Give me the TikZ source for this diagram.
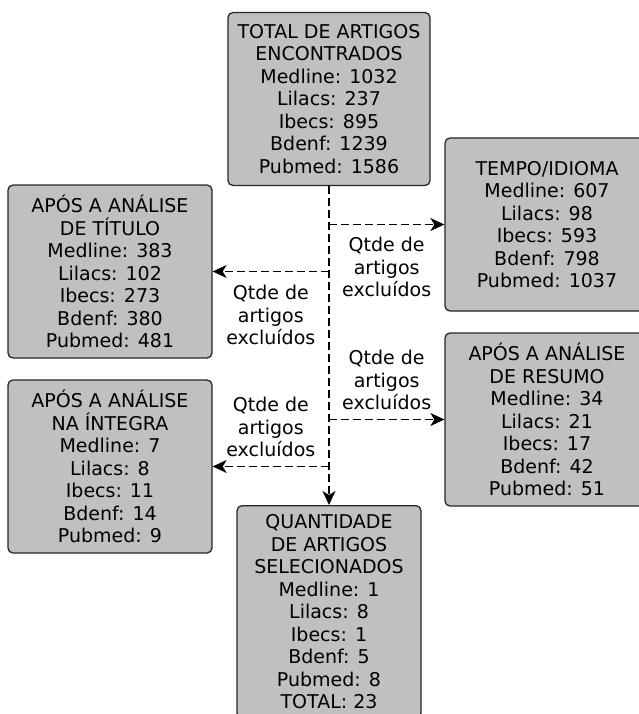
\documentclass[tikz,border=0pt]{standalone}
\usepackage{fontspec}
\setmainfont{DejaVu Sans}
\usepackage{tikz}
\usetikzlibrary{positioning, arrows.meta}
\definecolor{boxgray}{RGB}{192,192,192}

\begin{document}
\begin{tikzpicture}[x=1pt,y=1pt,
% Box style
    box/.style={rectangle,rounded corners=5pt,draw=black!85,line width=1.3pt,
		fill=boxgray,align=center,inner xsep=2pt,inner ysep=9pt,
		minimum width=204pt,minimum height=173pt,
		font=\fontsize{19}{22.5}\selectfont},
% Label style
    note/.style={align=center,inner sep=3pt,
		font=\fontsize{19}{22.5}\selectfont},
% Connector style
    flow/.style={dash pattern=on 8pt off 4pt,line width=1.3pt,
		-{Stealth[length=14pt,width=13pt,inset=4pt]}}
    ]
   \clip (0,0) rectangle (639,-714);
%% Boxes
   \node (total) [box,minimum width=202pt] at (329,-99)
	{TOTAL DE ARTIGOS\\ENCONTRADOS\\Medline: 1032\\Lilacs: 237\\Ibecs: 895\\Bdenf: 1239\\Pubmed: 1586};
   \node (tempo) [box] at (547,-224.5)
	{TEMPO/IDIOMA\\Medline: 607\\Lilacs: 98\\Ibecs: 593\\Bdenf: 798\\Pubmed: 1037};
   \node (titulo) [box] at (110,-271.5)
	{APÓS A ANÁLISE\\DE TÍTULO\\Medline: 383\\Lilacs: 102\\Ibecs: 273\\Bdenf: 380\\Pubmed: 481};
   \node (resumo) [box] at (547,-419.5)
	{APÓS A ANÁLISE\\DE RESUMO\\Medline: 34\\Lilacs: 21\\Ibecs: 17\\Bdenf: 42\\Pubmed: 51};
   \node (integra) [box] at (110,-466.5)
	{APÓS A ANÁLISE\\NA ÍNTEGRA\\Medline: 7\\Lilacs: 8\\Ibecs: 11\\Bdenf: 14\\Pubmed: 9};
   \node (sel) [box,anchor=north,minimum width=184pt] at (329,-505)
	{QUANTIDADE\\DE ARTIGOS\\SELECIONADOS\\Medline: 1\\Lilacs: 8\\Ibecs: 1\\Bdenf: 5\\Pubmed: 8\\TOTAL: 23};
%% Flow
   \draw [flow] (total.south) -- (sel.north);
   \draw [flow] (total.south |- tempo.west) -- (tempo.west)
	node [note,midway,below=9pt] (exc1) {Qtde de\\artigos\\excluídos};
   \draw [flow] (total.south |- titulo.east) -- (titulo.east)
	node [note,midway,below=10pt] (exc2) {Qtde de\\artigos\\excluídos};
   \draw [flow] (total.south |- resumo.west) -- (resumo.west)
	node [note,midway,above=6pt] (exc3) {Qtde de\\artigos\\excluídos};
   \draw [flow] (total.south |- integra.east) -- (integra.east)
	node [note,midway,above=6pt] (exc4) {Qtde de\\artigos\\excluídos};
\end{tikzpicture}
\end{document}
